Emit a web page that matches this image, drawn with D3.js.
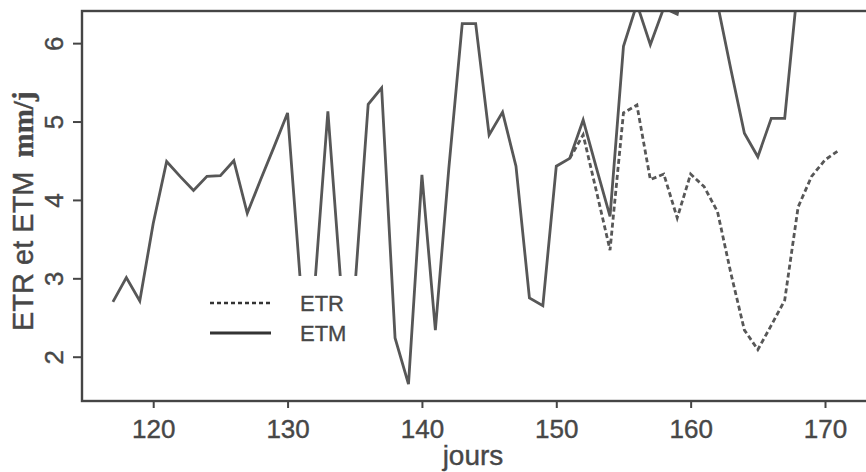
<!DOCTYPE html>
<html><head><meta charset="utf-8">
<script src="https://cdn.jsdelivr.net/npm/d3@7"></script>
<style>body{margin:0;background:#fff}svg{display:block}</style>
</head><body>
<svg id="c" width="866" height="472"></svg>
<script>
// ---- data ----
const etmDays = [117,118,119,120,121,122,123,124,125,126,127,128,129,130,131,132,133,134,135,136,137,138,139,140,141,142,143,144,145,146,147,148,149,150,151,152,153,154,155,156,157,158,159,160,161,162,163,164,165,166,167,168];
const etmValues = [2.70,3.01,2.71,3.70,4.49,4.30,4.12,4.30,4.31,4.50,3.83,4.26,4.68,5.11,2.85,2.85,5.13,2.85,2.85,5.22,5.43,2.24,1.65,4.32,2.34,4.40,6.25,6.25,4.83,5.12,4.43,2.75,2.65,4.43,4.53,5.02,4.40,3.79,5.96,6.50,5.98,6.45,6.37,7.20,7.00,6.50,5.66,4.85,4.55,5.04,5.04,6.78];
const etrDays = [151,152,153,154,155,156,157,158,159,160,161,162,163,164,165,166,167,168,169,170,171];
const etrValues = [4.53,4.83,4.10,3.36,5.11,5.21,4.26,4.33,3.77,4.33,4.17,3.85,3.06,2.34,2.09,2.40,2.72,3.91,4.30,4.51,4.63];
const xTicks = [120,130,140,150,160,170];
const yTicks = [2,3,4,5,6];
const legendLabels = ["ETR","ETM"];
const xTitle = "jours";
const yTitleMain = "ETR et ETM";
const yTitleUnit = "mm/j";

// ---- layout ----
const L = 82, R = 868, T = 11, B = 401;
const lineCol = "#575757", frameCol = "#454545", textCol = "#474747";
const svg = d3.select("#c");
const x = d3.scaleLinear().domain([114.7, 173.2]).range([L, R]);
const y = d3.scaleLinear().domain([1.435, 6.41]).range([B, T]);

svg.append("defs").append("clipPath").attr("id","clip")
  .append("rect").attr("x",L).attr("y",T).attr("width",R-L).attr("height",B-T);

const line = d3.line().x(d=>x(d[0])).y(d=>y(d[1]));
const etm = etmDays.map((d,i)=>[d, etmValues[i]]);
const etr = etrDays.map((d,i)=>[d, etrValues[i]]);

const g = svg.append("g").attr("clip-path","url(#clip)");
g.append("path").datum(etm).attr("d", line).attr("fill","none")
  .attr("stroke", lineCol).attr("stroke-width", 2.8).attr("stroke-linejoin","miter");
g.append("path").datum(etr).attr("d", line).attr("fill","none")
  .attr("stroke", lineCol).attr("stroke-width", 2.8).attr("stroke-dasharray","5,3");

// legend (white background box hides lines behind it)
const lg = svg.append("g");
lg.append("rect").attr("x",195).attr("y",y(3.03)).attr("width",163).attr("height",76).attr("fill","#fff");
const legY = [303, 333];
legendLabels.forEach((lab,i)=>{
  lg.append("line").attr("x1",210).attr("x2",271).attr("y1",legY[i]).attr("y2",legY[i])
    .attr("stroke", "#333").attr("stroke-width", i===0 ? 2.4 : 2.8)
    .attr("stroke-dasharray", i===0 ? "4,3" : null);
  lg.append("text").attr("x",300).attr("y",legY[i]+8).text(lab)
    .attr("font-family","Liberation Sans, Arial, sans-serif").attr("font-size",22)
    .attr("fill",textCol).attr("stroke",textCol).attr("stroke-width",0.35);
});

// frame
svg.append("rect").attr("x",L).attr("y",T).attr("width",R-L).attr("height",B-T)
  .attr("fill","none").attr("stroke",frameCol).attr("stroke-width",2.4);

// x axis
const xa = svg.append("g").attr("transform",`translate(0,${B})`)
  .call(d3.axisBottom(x).tickValues(xTicks).tickSize(7).tickFormat(d3.format("d")));
xa.select(".domain").remove();
xa.selectAll("line").attr("stroke",frameCol).attr("stroke-width",2);
xa.selectAll("text").attr("y",37).attr("dy",null)
  .attr("font-family","Liberation Sans, Arial, sans-serif").attr("font-size",26)
  .attr("fill",textCol).attr("stroke",textCol).attr("stroke-width",0.4);

// y axis
const ya = svg.append("g").attr("transform",`translate(${L},0)`)
  .call(d3.axisLeft(y).tickValues(yTicks).tickSize(9).tickFormat(d3.format("d")));
ya.select(".domain").remove();
ya.selectAll("line").attr("stroke",frameCol).attr("stroke-width",2);
ya.selectAll("text").attr("transform","rotate(-90)").attr("x",0).attr("y",-19).attr("dy",null)
  .attr("text-anchor","middle")
  .attr("font-family","Liberation Sans, Arial, sans-serif").attr("font-size",26)
  .attr("fill",textCol).attr("stroke",textCol).attr("stroke-width",0.4);

// titles
svg.append("text").attr("x",(L+R)/2 - 2).attr("y",465).attr("text-anchor","middle")
  .attr("font-family","Liberation Sans, Arial, sans-serif").attr("font-size",28)
  .attr("fill",textCol).attr("stroke",textCol).attr("stroke-width",0.4)
  .text(xTitle);
const yt = svg.append("text").attr("transform","translate(33,331) rotate(-90)")
  .attr("fill",textCol).attr("stroke",textCol).attr("stroke-width",0.4);
yt.append("tspan").attr("font-family","Liberation Sans, Arial, sans-serif").attr("font-size",29).text(yTitleMain);
yt.append("tspan").attr("dx",14).attr("font-family","Liberation Serif, Times New Roman, serif")
  .attr("font-size",29).attr("font-weight","bold").text(yTitleUnit);
</script>
</body></html>
